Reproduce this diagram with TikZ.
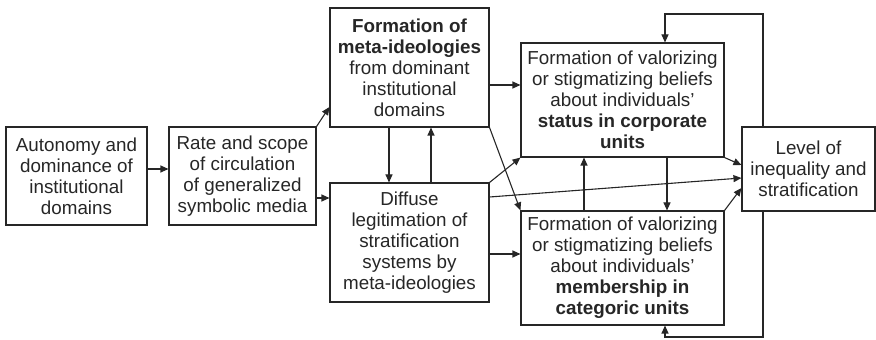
\documentclass[tikz,border=0pt]{standalone}
\usepackage{fontspec}
\setmainfont{Liberation Sans}
\usetikzlibrary{arrows.meta,calc}
\begin{document}
\begin{tikzpicture}[x=1pt,y=1pt,
  box/.style={draw=black!85,line width=1.1pt,inner sep=0pt,align=center,
    font=\fontsize{18.8}{21}\selectfont,text=black!85},
  conn/.style={draw=black!85,line width=1.1pt,-{Triangle[length=8pt,width=7pt]}}]
\useasboundingbox (0,0) rectangle (876,340);
\node[box,minimum width=141pt,minimum height=98pt] (A) at (76.5,164)
  {Autonomy and\\dominance of\\institutional\\domains};
\node[box,minimum width=147pt,minimum height=98pt] (B) at (242.5,164)
  {Rate and scope\\of circulation\\of generalized\\symbolic media};
\node[box,minimum width=159pt,minimum height=119pt] (C) at (409.5,272.5)
  {\textbf{Formation of}\\\textbf{meta-ideologies}\\from dominant\\institutional\\domains};
\node[box,minimum width=159pt,minimum height=119pt] (D) at (409.5,97.5)
  {Diffuse\\legitimation of\\stratification\\systems by\\meta-ideologies};
\node[box,minimum width=203pt,minimum height=114pt] (E) at (622.5,240)
  {Formation of valorizing\\or stigmatizing beliefs\\about individuals’\\\textbf{status in corporate}\\\textbf{units}};
\node[box,minimum width=203pt,minimum height=114pt] (F) at (622.5,72)
  {Formation of valorizing\\or stigmatizing beliefs\\about individuals’\\\textbf{membership in}\\\textbf{categoric units}};
\node[box,minimum width=133pt,minimum height=84pt] (G) at (808.5,171)
  {Level of\\inequality and\\stratification};
% connectors
\draw[conn] ([yshift=7pt]A.east) -- ([yshift=7pt]A.east -| B.west);
\draw[conn] (B.north east) -- ([yshift=-39.5pt]C.west);
\draw[conn] ([yshift=-22pt]B.east) -- ([yshift=-22pt]B.east -| D.west);
\draw[conn] ([xshift=-20.5pt]C.south) -- ([xshift=-20.5pt]D.north);
\draw[conn] ([xshift=21.5pt]D.north) -- ([xshift=21.5pt]C.south);
\draw[conn] ([yshift=-17.5pt]C.east) -- ([yshift=-17.5pt]C.east -| E.west);
\draw[conn] (C.south east) -- (F.north west);
\draw[conn] (D.north east) -- (E.south west);
\draw[conn] ([yshift=45.5pt]D.east) -- ([yshift=-9pt]G.west);
\draw[conn] ([yshift=-11.5pt]D.east) -- ([yshift=-11.5pt]D.east -| F.west);
\draw[conn] ([xshift=-38.5pt]F.north) -- ([xshift=-38.5pt]E.south);
\draw[conn] ([xshift=44.5pt]E.south) -- ([xshift=44.5pt]F.north);
\draw[conn] (E.south east) -- ([yshift=4pt]G.west);
\draw[conn] (F.north east) -- ([yshift=-19pt]G.west);
\coordinate (t1) at (763,326);
\coordinate (t2) at (665,326);
\coordinate (b1) at (763,3);
\coordinate (b2) at (665,3);
\draw[conn] ([xshift=-45.5pt]G.north) -- (t1) -- (t2) -- (t2 |- E.north);
\draw[conn] ([xshift=-45.5pt]G.south) -- (b1) -- (b2) -- (b2 |- F.south);
\end{tikzpicture}
\end{document}
